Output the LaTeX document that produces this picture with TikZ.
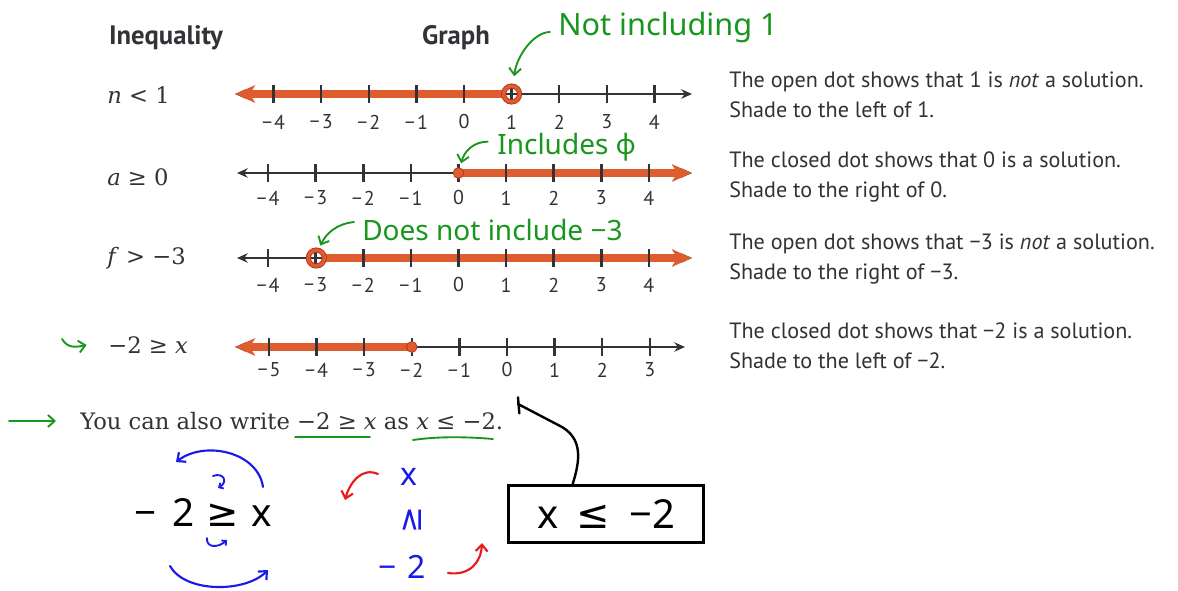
\documentclass[tikz,border=0pt]{standalone}
\usepackage{fontspec}
\usepackage{graphicx}
\usetikzlibrary{arrows.meta}
\newfontfamily\bookfont{PT Sans}
\newfontfamily\handfont{Noto Sans}
\newfontfamily\symsans{DejaVu Sans}
\newfontfamily\bookserif{DejaVu Serif}
\definecolor{shade}{RGB}{222,92,45}
\definecolor{shadedark}{RGB}{185,55,30}
\definecolor{pen}{RGB}{25,150,30}
\definecolor{bluepen}{RGB}{25,25,235}
\definecolor{redpen}{RGB}{235,25,25}
\definecolor{ink}{RGB}{50,50,55}
\newcommand\nlab[1]{\ifnum#1<0 −\kern1.5pt\number\numexpr 0-(#1)\relax\else#1\fi}
\newcommand\ticksrow[6]{%
  \foreach \k in {#4,...,#5}{%
    \draw[tickmark] ({#3+47.6*\k},{#2-9}) -- ({#3+47.6*\k},{#2+9});
    \node[numlab] (#1t\k) at ({#3+47.6*\k},#6) {\nlab{\k}};
  }}
\begin{document}
\begin{tikzpicture}[x=0.75pt,y=-0.75pt,
  numaxis/.style={draw=ink,line width=1.5pt,{Stealth[length=8pt,width=7pt]}-{Stealth[length=8pt,width=7pt]}},
  shadeline/.style={draw=shade,line width=5.5pt},
  shadetip/.style={-{Stealth[length=15pt,width=13pt,inset=4pt]}},
  tickmark/.style={draw=ink,line width=1.9pt},
  numlab/.style={font=\bookfont\fontsize{15}{17}\selectfont,text=ink,inner sep=0pt},
  opendot/.style={circle,draw=shadedark,double=shade,double distance=2.4pt,line width=0.7pt,minimum size=12pt,inner sep=0pt},
  closeddot/.style={circle,fill=shade,draw=shadedark,line width=0.6pt,minimum size=8pt,inner sep=0pt},
  head/.style={font=\bookfont\bfseries\fontsize{20}{22}\selectfont,text=ink},
  ineq/.style={font=\bookserif\fontsize{17}{20}\selectfont,text=ink,anchor=west,inner sep=0pt},
  desc/.style={font=\bookfont\fontsize{16.6}{22.5}\selectfont,text=ink,align=left,anchor=west,inner sep=0pt},
  handnote/.style={font=\handfont\fontsize{23}{25}\selectfont,text=pen,anchor=west,inner sep=0pt},
  penarrow/.style={draw=pen,line width=1.4pt,line cap=round,-{Straight Barb[length=5pt,width=9pt]}},
  bluearrow/.style={draw=bluepen,line width=1.6pt,line cap=round,-{Straight Barb[length=5pt,width=9pt]}},
  smallblue/.style={draw=bluepen,line width=1.4pt,line cap=round,-{Straight Barb[length=2.5pt,width=5pt]}},
  redarrow/.style={draw=redpen,line width=1.6pt,line cap=round,-{Straight Barb[length=5pt,width=9pt]}},
  blueink/.style={font=\handfont\fontsize{24}{26}\selectfont,text=bluepen,inner sep=0pt},
  blackink/.style={font=\handfont\fontsize{29}{31}\selectfont,text=black,inner sep=0pt}
]
\fill[white] (0,0) rectangle (1178,591);
\path[use as bounding box] (0,0) rectangle (1178,591);

% headers
\node[head] (hI) at (166,38) {Inequality};
\node[head] (hG) at (456,38) {Graph};

% inequalities
\node[ineq] (q1) at (107,95) {\textit{n} < 1};
\node[ineq] (q2) at (107,177) {\textit{a} ≥ 0};
\node[ineq] (q3) at (107,258) {\textit{f} > −3};
\node[ineq] (q4) at (108,345) {−2 ≥ \textit{x}};

% line 1
\coordinate (p1) at (511.6,94);
\draw[numaxis] (235,94) -- (692,94);
\draw[shadeline,shadetip] ([xshift=-6pt]p1) -- (235,94);
\ticksrow{A}{94}{464}{-4}{4}{122}
\node[opendot] (d1) at (p1) {};

% line 2
\coordinate (p2) at (458.5,173);
\draw[numaxis] (237,173) -- (692,173);
\draw[shadeline,shadetip] (p2) -- (692,173);
\ticksrow{B}{173}{458.5}{-4}{4}{198}
\node[closeddot] (d2) at (p2) {};

% line 3
\coordinate (p3) at (316.3,258);
\draw[numaxis] (237,258) -- (692,258);
\draw[shadeline,shadetip] ([xshift=6pt]p3) -- (692,258);
\ticksrow{C}{258}{458.5}{-4}{4}{285}
\node[opendot] (d3) at (p3) {};

% line 4
\coordinate (p4) at (411.8,347);
\draw[numaxis] (235,347) -- (685,347);
\draw[shadeline,shadetip] (p4) -- (235,347);
\ticksrow{D}{347}{507}{-5}{3}{370}
\node[closeddot] (d4) at (p4) {};

% descriptions
\node[desc] (t1) at (729,95) {The open dot shows that 1 is \textit{not} a solution.\\Shade to the left of 1.};
\node[desc] (t2) at (729,177) {The closed dot shows that 0 is a solution.\\Shade to the right of 0.};
\node[desc] (t3) at (729,259) {The open dot shows that −3 is \textit{not} a solution.\\Shade to the right of −3.};
\node[desc] (t4) at (729,346) {The closed dot shows that −2 is a solution.\\Shade to the left of −2.};

% bottom sentence
\node[anchor=west,inner sep=0pt,font=\bookserif\fontsize{17}{20}\selectfont,text=ink] (also) at (80,421) {You can also write −2 ≥ \textit{x} as \textit{x} ≤ −2.};
\draw[pen,line width=1.4pt,line cap=round] (295,437) -- (370,437);
\draw[pen,line width=1.4pt,line cap=round] (413,440) .. controls (440,436) and (470,437) .. (493,439);

% green left arrows
\coordinate (g1) at (9,421);
\draw[penarrow] (g1) -- ([xshift=-18pt]also.west);
\coordinate (g2) at (62,339);
\draw[penarrow] (g2) .. controls +(6,10) and +(-10,2) .. ([xshift=-16pt]q4.west);

% green notes
\node[handnote] (n1) at (558,28) {Not including 1};
\node[handnote,font=\handfont\fontsize{21}{23}\selectfont] (n2) at (497,147) {Includes ϕ};
\node[handnote,font=\handfont\fontsize{21}{23}\selectfont] (n3) at (362,230) {Does not include −3};
\draw[penarrow] ([xshift=-6pt,yshift=-3pt]n1.west) .. controls +(-16,0) and +(2,-20) .. ([xshift=2pt,yshift=7pt]d1.north);
\draw[penarrow] ([xshift=-7pt,yshift=4pt]n2.west) .. controls +(-14,0) and +(3,-12) .. ([xshift=2pt,yshift=3pt]d2.north);
\draw[penarrow] ([xshift=-6pt,yshift=6pt]n3.west) .. controls +(-18,2) and +(6,-12) .. ([xshift=3pt,yshift=3pt]d3.north);

% handwritten work
\node[blackink] (hw) at (203,513) {−\hspace{12pt}2\hspace{9pt}{\symsans ≥}\hspace{9pt}x};
\coordinate (ba) at (263,487);
\coordinate (bb) at (176,462);
\draw[bluearrow] (ba) .. controls (258,452) and (205,440) .. (bb);
\coordinate (bc) at (170,566);
\coordinate (bd) at (268,570);
\draw[bluearrow] (bc) .. controls (185,593) and (245,593) .. (bd);
\coordinate (be) at (213,476);
\coordinate (bf) at (218,488);
\draw[smallblue] (be) .. controls (224,472) and (228,482) .. (bf);
\coordinate (bg) at (207,538);
\coordinate (bh) at (227,540);
\draw[smallblue] (bg) .. controls (206,548) and (218,548) .. (bh);

\node[blueink] (bx) at (409,477) {x};
\node[blueink] (bge) at (412,520) {\rotatebox{90}{\symsans ≥}};
\node[blueink] (bm2) at (402,567) {−\hspace{8pt}2};
\coordinate (ra) at (378,474);
\coordinate (rb) at (345,500);
\draw[redarrow] (ra) .. controls (362,467) and (350,482) .. (rb);
\coordinate (rc) at (448,573);
\coordinate (rd) at (482,543);
\draw[redarrow] (rc) .. controls (470,576) and (481,562) .. (rd);

\node[draw,line width=2pt,minimum width=146pt,minimum height=43pt,font=\handfont\fontsize{30}{32}\selectfont] (box) at (606,514) {x\hspace{14pt}{\symsans ≤}\hspace{14pt}−2};
\coordinate (hook) at (518,404);
\draw[line width=1.8pt,line cap=round] ([xshift=-25pt]box.north) .. controls +(8,-25) and +(20,12) .. (562,427) -- (hook);
\draw[line width=1.8pt,line cap=round] ([yshift=5pt]hook) -- ([xshift=1pt,yshift=-7pt]hook);
\end{tikzpicture}
\end{document}
